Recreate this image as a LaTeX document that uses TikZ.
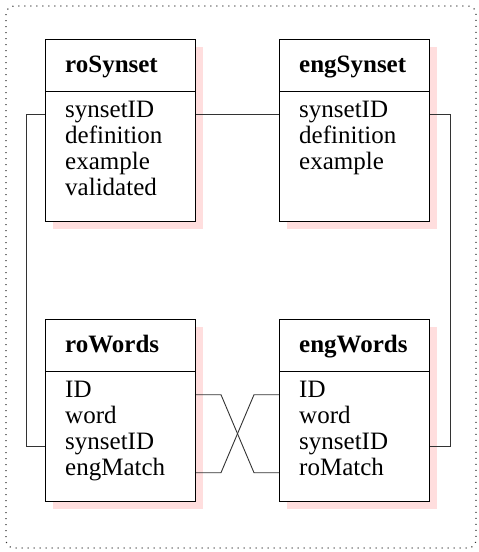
\documentclass[tikz,border=0pt]{standalone}
\usepackage{fontspec}
\setmainfont{Liberation Serif}
\usetikzlibrary{calc,shadows}
\definecolor{shadowpink}{HTML}{FFDEDE}
\definecolor{connc}{HTML}{333333}
\tikzset{
  tbl/.style={draw=black, line width=1pt, fill=white, minimum width=150pt,
    minimum height=182pt, anchor=north west, inner sep=0pt,
    drop shadow={fill=shadowpink, opacity=1, shadow xshift=7pt, shadow yshift=-7pt}},
  ttl/.style={anchor=base west, inner sep=0pt, font=\fontsize{25}{26}\selectfont\bfseries},
  attr/.style={anchor=base west, inner sep=0pt, font=\fontsize{25}{26}\selectfont},
  conn/.style={draw=connc, line width=0.9pt},
  divider/.style={draw=black, line width=1pt},
}
\begin{document}
\begin{tikzpicture}[x=1pt,y=-1pt]
\useasboundingbox (0,0) rectangle (479,552);
\draw[draw=black!80, line width=1.1pt, dash pattern=on 1.1pt off 4.9pt, rounded corners=8pt] (6,6) rectangle (476,548);

% roSynset
\node[tbl] (roS) at (45,39) {};
\draw[divider] ($(roS.north west)+(0,52)$) -- ($(roS.north east)+(0,52)$);
\node[ttl] (roSt) at ($(roS.north west)+(20,33)$) {roSynset};
\node[attr] (roS1) at ($(roS.north west)+(20,78)$) {synsetID};
\node[attr] (roS2) at ($(roS.north west)+(20,104)$) {definition};
\node[attr] (roS3) at ($(roS.north west)+(20,130)$) {example};
\node[attr] (roS4) at ($(roS.north west)+(20,156)$) {validated};

% engSynset
\node[tbl] (engS) at (279,39) {};
\draw[divider] ($(engS.north west)+(0,52)$) -- ($(engS.north east)+(0,52)$);
\node[ttl] (engSt) at ($(engS.north west)+(20,33)$) {engSynset};
\node[attr] (engS1) at ($(engS.north west)+(20,78)$) {synsetID};
\node[attr] (engS2) at ($(engS.north west)+(20,104)$) {definition};
\node[attr] (engS3) at ($(engS.north west)+(20,130)$) {example};

% roWords
\node[tbl] (roW) at (45,319) {};
\draw[divider] ($(roW.north west)+(0,52)$) -- ($(roW.north east)+(0,52)$);
\node[ttl] (roWt) at ($(roW.north west)+(20,33)$) {roWords};
\node[attr] (roW1) at ($(roW.north west)+(20,78)$) {ID};
\node[attr] (roW2) at ($(roW.north west)+(20,104)$) {word};
\node[attr] (roW3) at ($(roW.north west)+(20,130)$) {synsetID};
\node[attr] (roW4) at ($(roW.north west)+(20,156)$) {engMatch};

% engWords
\node[tbl] (engW) at (279,319) {};
\draw[divider] ($(engW.north west)+(0,52)$) -- ($(engW.north east)+(0,52)$);
\node[ttl] (engWt) at ($(engW.north west)+(20,33)$) {engWords};
\node[attr] (engW1) at ($(engW.north west)+(20,78)$) {ID};
\node[attr] (engW2) at ($(engW.north west)+(20,104)$) {word};
\node[attr] (engW3) at ($(engW.north west)+(20,130)$) {synsetID};
\node[attr] (engW4) at ($(engW.north west)+(20,156)$) {roMatch};

% connectors
\draw[conn] (roS.east |- roS1.mid) -- (engS.west |- engS1.mid);
\draw[conn] (roS.west |- roS1.mid) -- ++(-19,0) |- (roW.west |- roW3.mid);
\draw[conn] (engS.east |- engS1.mid) -- ++(20,0) |- (engW.east |- engW3.mid);
\draw[conn] (roW.east |- roW1.mid) -- ++(25,0) -- ($(engW.west |- engW4.mid)+(-25,0)$) -- (engW.west |- engW4.mid);
\draw[conn] (roW.east |- roW4.mid) -- ++(25,0) -- ($(engW.west |- engW1.mid)+(-25,0)$) -- (engW.west |- engW1.mid);
\end{tikzpicture}
\end{document}
